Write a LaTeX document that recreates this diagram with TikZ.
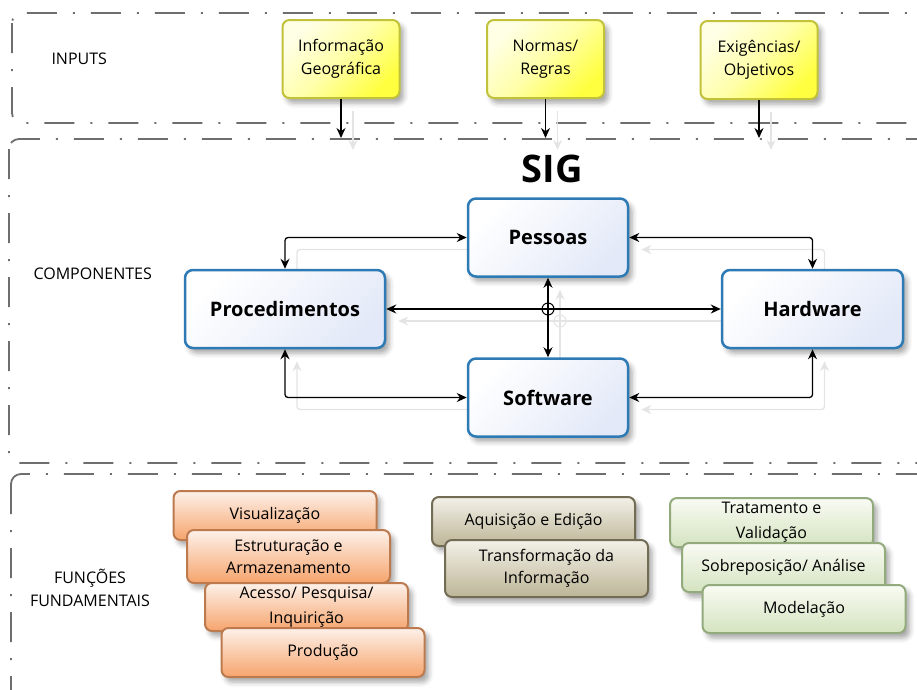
\documentclass[tikz,border=0pt]{standalone}
\usepackage{fontspec}
\setmainfont{Open Sans}
\usetikzlibrary{arrows.meta,shadows.blur}

\definecolor{lanegray}{HTML}{6E6E6E}
\definecolor{inborder}{HTML}{C2C23A}
\definecolor{inlight}{HTML}{FFFFE6}
\definecolor{inmid}{HTML}{FFFFA8}
\definecolor{indark}{HTML}{FFFF40}
\definecolor{compborder}{HTML}{2E7AB4}
\definecolor{complight}{HTML}{FFFFFF}
\definecolor{compdark}{HTML}{E3E9F8}
\definecolor{orborder}{HTML}{BC7A4E}
\definecolor{orlight}{HTML}{FDF1EA}
\definecolor{ordark}{HTML}{F6A46C}
\definecolor{olborder}{HTML}{726C54}
\definecolor{ollight}{HTML}{F3F1E8}
\definecolor{oldark}{HTML}{BDB597}
\definecolor{grborder}{HTML}{92AA7C}
\definecolor{grlight}{HTML}{F9FBF4}
\definecolor{grdark}{HTML}{D4E3BF}
\definecolor{ghostgray}{HTML}{E4E4E4}

\tikzset{
  lanebox/.style={draw=lanegray, line width=1.8pt,
    dash pattern=on 30pt off 16pt on 2pt off 16pt, rounded corners=10pt},
  softshadow/.style={blur shadow={shadow xshift=4pt, shadow yshift=-5pt,
    shadow blur radius=5pt, shadow opacity=35}},
  inbox/.style={draw=inborder, line width=2pt, rounded corners=7pt,
    top color=inlight, bottom color=indark, middle color=inmid, shading angle=45,
    minimum width=117pt, minimum height=78pt, align=center,
    font=\fontsize{16}{23}\selectfont, softshadow},
  % frame of a component box: fixes its place and size, draws nothing
  compframe/.style={inner sep=0pt, outer sep=1.25pt, minimum height=78pt},
  compbox/.style={draw=compborder, line width=2.5pt, rounded corners=8pt,
    top color=complight, bottom color=compdark, shading angle=45,
    minimum height=78pt, align=center,
    font=\bfseries\fontsize{20}{22}\selectfont, softshadow},
  funcbox/.style={line width=2pt, rounded corners=7pt, minimum width=203pt,
    align=center, font=\fontsize{16}{22.5}\selectfont, softshadow},
  widelines/.style={font=\fontsize{16}{25}\selectfont},
  orbox/.style={funcbox, draw=orborder, top color=orlight, bottom color=ordark},
  olbox/.style={funcbox, draw=olborder, top color=ollight, bottom color=oldark},
  grbox/.style={funcbox, draw=grborder, top color=grlight, bottom color=grdark},
  lanelabel/.style={font=\fontsize{16}{23}\selectfont, align=center},
  conn/.style={line width=1.3pt, rounded corners=3pt,
    {Stealth[length=10pt,width=9pt]}-{Stealth[length=10pt,width=9pt]}},
  inarrow/.style={line width=1.3pt, -{Stealth[length=10pt,width=9pt]}},
  ghost/.style={draw=ghostgray},
  gs/.style={xshift=12pt, yshift=-12pt},
}

\begin{document}
\begin{tikzpicture}[x=1pt,y=-1pt]
\useasboundingbox (0,0) rectangle (917,689);

% swimlanes
\begin{scope}
\clip (0,0) rectangle (917,689);
\draw[lanebox] (12,13) rectangle (960,123);
\draw[lanebox] (9,139) rectangle (960,463);
\draw[lanebox] (11,474) rectangle (960,730);
\end{scope}
\coordinate (lanetop) at (0,138);

\node[lanelabel, anchor=west] (lblin) at (48,59) {INPUTS};
\node[lanelabel, anchor=west] (lblcomp) at (30,274) {COMPONENTES};
\node[lanelabel] (lblfunc) at (90,588) {FUNÇÕES\\FUNDAMENTAIS};

% component frames
\node[compframe, minimum width=160pt] (pesf) at (548,237.5) {};
\node[compframe, minimum width=200pt] (procf) at (285,309) {};
\node[compframe, minimum width=181pt] (hwf) at (812.5,309) {};
\node[compframe, minimum width=160pt] (swf) at (548,397.5) {};
\coordinate (hopf) at (pesf.south |- procf.east);

% faint echo of the connectors, lying under the boxes
\draw[conn, ghost] ([gs]pesf.west) -| ([gs]procf.north);
\draw[conn, ghost] ([gs]pesf.east) -| ([gs]hwf.north);
\draw[conn, ghost] ([gs]swf.west) -| ([gs]procf.south);
\draw[conn, ghost] ([gs]swf.east) -| ([gs]hwf.south);
\draw[conn, ghost] ([gs]procf.east) -- ([gs]hwf.west);
\draw[conn, ghost] ([gs]pesf.south) -- ([gs]swf.north);
\draw[ghost, line width=1pt] ([gs]hopf) circle (6pt);

% inputs
\node[inbox] (info) at (341,59) {Informação\\Geográfica};
\node[inbox] (norm) at (545.5,59) {Normas/\\Regras};
\node[inbox] (exig) at (759,60) {Exigências/\\Objetivos};
\draw[inarrow, ghost] ([gs]info.south) -- ([gs]info.south |- lanetop);
\draw[inarrow, ghost] ([gs]norm.south) -- ([gs]norm.south |- lanetop);
\draw[inarrow, ghost] ([gs]exig.south) -- ([gs]exig.south |- lanetop);
\draw[inarrow] (info.south) -- (info.south |- lanetop);
\draw[inarrow] (norm.south) -- (norm.south |- lanetop);
\draw[inarrow] (exig.south) -- (exig.south |- lanetop);

% components
\node[font=\bfseries\fontsize{38}{40}\selectfont] (sig) at (552.5,169) {SIG};
\node[compbox, minimum width=160pt] (pes) at (pesf) {Pessoas};
\node[compbox, minimum width=200pt] (proc) at (procf) {Procedimentos};
\node[compbox, minimum width=181pt] (hw) at (hwf) {Hardware};
\node[compbox, minimum width=160pt] (sw) at (swf) {Software};

% connectors
\draw[conn] (pes.west) -| (proc.north);
\draw[conn] (pes.east) -| (hw.north);
\draw[conn] (sw.west) -| (proc.south);
\draw[conn] (sw.east) -| (hw.south);
\draw[conn] (proc.east) -- (hw.west);
\draw[conn] (pes.south) -- (sw.north);
\node[circle, draw, line width=1pt, minimum size=12pt, inner sep=0pt]
  (hop) at (pes.south |- proc.east) {};

% fundamental functions
\node[orbox, minimum height=49pt] (vis) at (275,515.5) {Visualização};
\node[orbox, minimum height=53pt] (est) at (288.5,556.5) {Estruturação e\\Armazenamento};
\node[orbox, widelines, minimum height=48pt] (ace) at (306.5,607) {Acesso/ Pesquisa/\\Inquirição};
\node[orbox, minimum height=49pt] (prod) at (323,652.5) {Produção};

\node[olbox, minimum height=49pt] (aq) at (533.5,521.5) {Aquisição e Edição};
\node[olbox, minimum height=57pt] (tr) at (546.5,568.5) {Transformação da\\Informação};

\node[grbox, widelines, minimum height=49pt] (trat) at (771.5,522.5) {Tratamento e\\Validação};
\node[grbox, minimum height=49pt] (sob) at (783.5,567.5) {Sobreposição/ Análise};
\node[grbox, minimum height=48pt] (mod) at (804,609) {Modelação};
\end{tikzpicture}
\end{document}
